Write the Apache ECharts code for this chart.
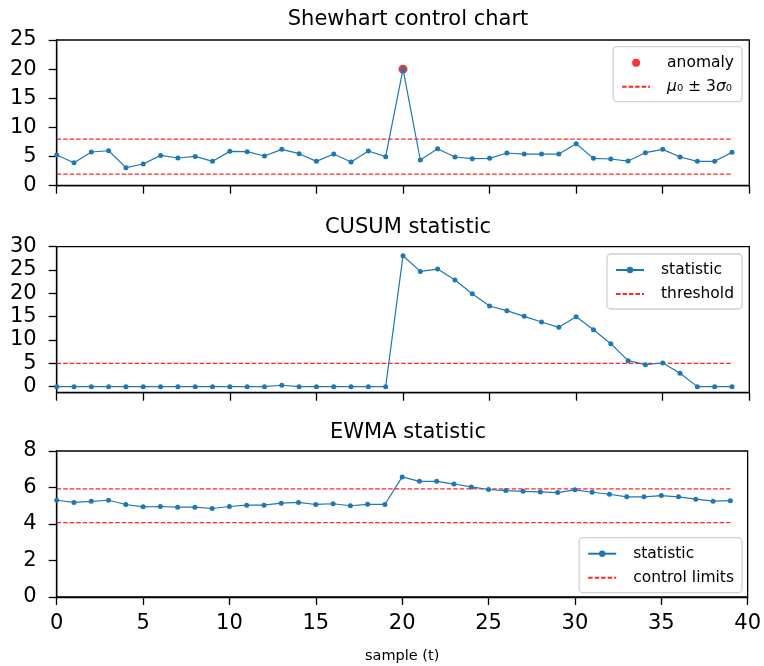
<!DOCTYPE html>
<html>
<head>
<meta charset="utf-8">
<script src="https://cdn.jsdelivr.net/npm/echarts@6/dist/echarts.min.js"></script>
<style>
html,body{margin:0;padding:0;background:#fff;}
#chart{width:764px;height:666px;}
</style>
</head>
<body>
<div id="chart"></div>
<script>
// ---- data ----
var samples = [];
for (var i = 0; i < 40; i++) samples.push(i);
var shewhartValues = [5.26,3.95,5.78,6.00,3.09,3.72,5.20,4.75,5.03,4.18,5.89,5.84,5.09,6.24,5.49,4.18,5.43,4.06,5.95,4.98,20.0,4.41,6.35,4.92,4.63,4.69,5.61,5.43,5.43,5.43,7.21,4.69,4.58,4.23,5.66,6.24,4.92,4.18,4.18,5.72];
var anomalyPoints = [[20, 20.0]];
var shewhartLimits = [2.0, 8.0];
var cusumValues = [0,0,0,0,0,0,0,0,0,0,0,0,0,0.3,0,0,0,0,0,0,28.07,24.7,25.2,22.86,19.93,17.29,16.29,15.07,13.86,12.71,15.0,12.21,9.21,5.57,4.71,5.07,2.86,0,0,0];
var cusumThreshold = 5.0;
var ewmaValues = [5.30,5.18,5.24,5.30,5.07,4.94,4.96,4.92,4.92,4.85,4.96,5.03,5.03,5.14,5.18,5.07,5.11,5.00,5.08,5.07,6.58,6.34,6.34,6.19,6.03,5.89,5.83,5.79,5.76,5.72,5.87,5.74,5.63,5.49,5.49,5.56,5.49,5.36,5.25,5.28];
var ewmaLimits = [4.08, 5.92];
var xTicks = [0,5,10,15,20,25,30,35,40];
var yTicksTop = [0,5,10,15,20,25];
var yTicksMid = [0,5,10,15,20,25,30];
var yTicksBot = [0,2,4,6,8];
var titles = ['Shewhart control chart', 'CUSUM statistic', 'EWMA statistic'];
var xLabel = 'sample (t)';
var muName = 'μ₀ ± 3σ₀';

// ---- helpers ----
function pairs(vals){ return samples.map(function(x, i){ return [x, vals[i]]; }); }
function hline(v){ return [[samples[0], v], [samples[samples.length-1], v]]; }

var FONT = 'DejaVu Sans';
var BLUE = '#1f77b4';
var RED_D = 'rgba(255,0,0,0.85)';
var grids = [
  {left: 56.7, right: 14.7, top: 40, height: 145.7},
  {left: 56.7, right: 14.7, top: 246.7, height: 146},
  {left: 56.7, right: 14.7, top: 451, height: 146}
];
grids.forEach(function(g){ g.show = true; g.borderColor = '#000'; g.borderWidth = 1.3; g.backgroundColor = 'transparent'; });

function xAxis(idx, showLabels){
  var a = {
    type: 'value', gridIndex: idx, min: 0, max: 40, interval: 5,
    axisLine: {show: true, onZero: false, lineStyle: {color: '#000', width: 1.3}},
    axisTick: {show: true, length: 8, inside: false, lineStyle: {color: '#000', width: 1.3}},
    axisLabel: {show: showLabels, fontSize: 21, fontFamily: FONT, color: '#000', margin: 16},
    splitLine: {show: false}
  };
  if (showLabels) {
    a.name = xLabel; a.nameLocation = 'middle'; a.nameGap = 52;
    a.nameTextStyle = {fontSize: 14.5, fontFamily: FONT, color: '#000'};
  }
  return a;
}
function yAxis(idx, min, max, ticks){
  return {
    type: 'value', gridIndex: idx, min: min, max: max,
    axisLine: {show: true, onZero: false, lineStyle: {color: '#000', width: 1.3}},
    axisTick: {show: true, length: 8, inside: false, customValues: ticks, lineStyle: {color: '#000', width: 1.3}},
    axisLabel: {fontSize: 21, fontFamily: FONT, color: '#000', margin: 20, customValues: ticks},
    splitLine: {show: false}
  };
}

function statSeries(name, idx, vals){
  return {
    name: name, type: 'line', xAxisIndex: idx, yAxisIndex: idx,
    data: pairs(vals), symbol: 'circle', symbolSize: 5, showAllSymbol: true,
    itemStyle: {color: BLUE}, lineStyle: {color: BLUE, width: 1.2},
    emphasis: {disabled: true}, z: 3
  };
}
function dashSeries(name, idx, v){
  return {
    name: name, type: 'line', xAxisIndex: idx, yAxisIndex: idx,
    data: hline(v), symbol: 'none', showSymbol: false,
    itemStyle: {color: RED_D},
    lineStyle: {color: RED_D, width: 1.3, type: [4.5, 2]},
    emphasis: {disabled: true}, z: 2
  };
}
var NOSYM = {color: 'rgba(0,0,0,0)', borderWidth: 0, opacity: 0};

var legendBase = {
  orient: 'vertical', right: 22,
  backgroundColor: 'rgba(255,255,255,0.85)', borderColor: '#d0d0d0', borderWidth: 1.3, borderRadius: 4,
  padding: [8, 8, 7, 8], itemGap: 8, itemWidth: 28, itemHeight: 8,
  textStyle: {fontSize: 15.5, fontFamily: FONT, color: '#000', padding: [0, 0, 0, 12],
    rich: {i: {fontStyle: 'italic', fontSize: 15.5, fontFamily: FONT, color: '#000'}}},
  selectedMode: false
};
function legendFormatter(name){ return name === muName ? '{i|μ}₀ ± 3{i|σ}₀' : name; }
function legend(extra){ var o = JSON.parse(JSON.stringify(legendBase)); o.formatter = legendFormatter; for (var k in extra) o[k] = extra[k]; return o; }

var option = {
  animation: false,
  backgroundColor: '#fff',
  title: titles.map(function(t, i){
    var tops = [4.5, 212.5, 417.5];
    return {text: t, left: 403, top: tops[i], textAlign: 'center',
      textStyle: {fontSize: 21, fontWeight: 'normal', fontFamily: FONT, color: '#000'}};
  }),
  grid: grids,
  xAxis: [xAxis(0, false), xAxis(1, false), xAxis(2, true)],
  yAxis: [yAxis(0, 0, 25, yTicksTop), yAxis(1, -1.3, 30, yTicksMid), yAxis(2, 0, 8, yTicksBot)],
  legend: [
    legend({top: 46.7, data: [{name: 'anomaly', icon: 'circle', itemStyle: {color: '#ff0000'}}, {name: muName, itemStyle: NOSYM}]}),
    legend({top: 254, data: ['statistic', {name: 'threshold', itemStyle: NOSYM}]}),
    legend({top: 537.7, data: ['statistic', {name: 'control limits', itemStyle: NOSYM}]})
  ],
  series: [
    {name: 'anomaly', type: 'scatter', xAxisIndex: 0, yAxisIndex: 0, data: anomalyPoints,
      symbol: 'circle', symbolSize: 9, itemStyle: {color: '#ff0000'}, z: 1, emphasis: {disabled: true}},
    statSeries('shewhart', 0, shewhartValues),
    dashSeries(muName, 0, shewhartLimits[0]),
    dashSeries(muName, 0, shewhartLimits[1]),
    statSeries('statistic', 1, cusumValues),
    dashSeries('threshold', 1, cusumThreshold),
    statSeries('statistic', 2, ewmaValues),
    dashSeries('control limits', 2, ewmaLimits[0]),
    dashSeries('control limits', 2, ewmaLimits[1])
  ]
};
var chart = echarts.init(document.getElementById('chart'), null, {renderer: 'canvas'});
chart.setOption(option);
</script>
</body>
</html>
